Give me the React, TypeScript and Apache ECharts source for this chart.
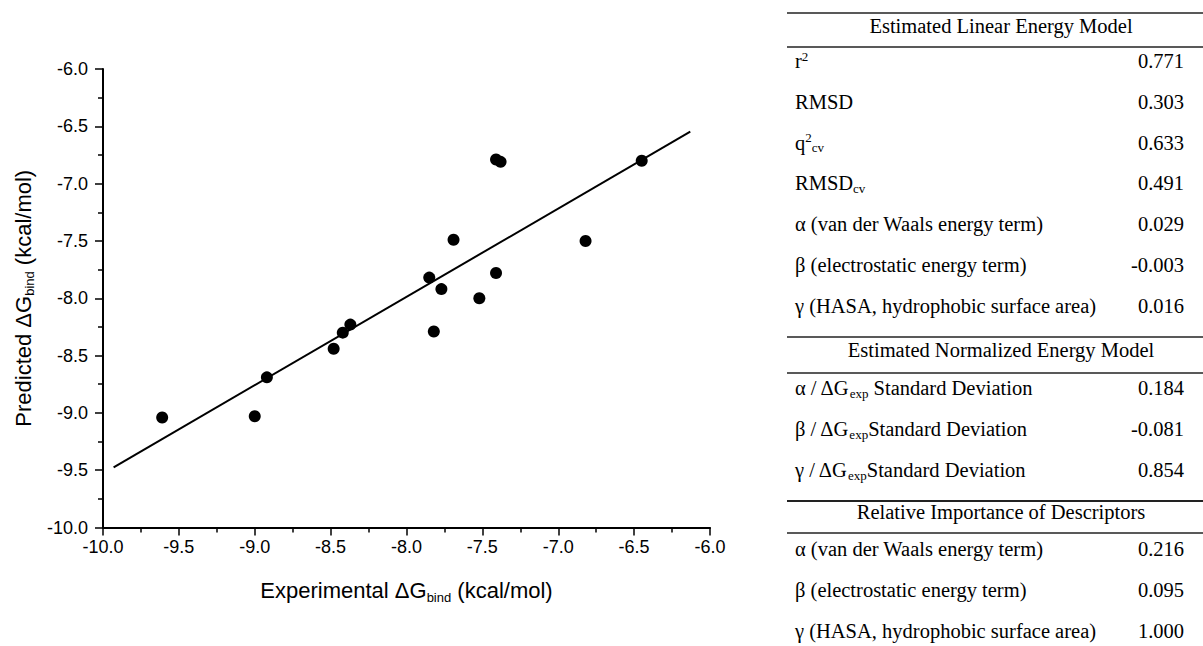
import React, { useEffect, useRef } from "react";
import * as echarts from "echarts";

// Scatter data (Experimental vs Predicted ΔG_bind)
const expX = [-9.61, -9.0, -8.92, -8.48, -8.42, -8.37, -7.85, -7.82, -7.77, -7.69, -7.52, -7.41, -7.41, -7.38, -6.82, -6.45];
const predY = [-9.04, -9.03, -8.69, -8.44, -8.3, -8.23, -7.82, -8.29, -7.92, -7.49, -8.0, -7.78, -6.79, -6.81, -7.5, -6.8];

// Regression line end points
const fitX = [-9.93, -6.13];
const fitY = [-9.475, -6.547];

// Table contents
const linearHeader = "Estimated Linear Energy Model";
const linearLabels = [
  "r{sup|2}",
  "RMSD",
  "q{sup|2}{sub|cv}",
  "RMSD{sub|cv}",
  "α (van der Waals energy term)",
  "β (electrostatic energy term)",
  "γ (HASA, hydrophobic surface area)",
];
const linearValues = ["0.771", "0.303", "0.633", "0.491", "0.029", "-0.003", "0.016"];

const normHeader = "Estimated Normalized Energy Model";
const normLabels = [
  "α / ΔG{sub|exp} Standard Deviation",
  "β / ΔG{sub|exp}Standard Deviation",
  "γ / ΔG{sub|exp}Standard Deviation",
];
const normValues = ["0.184", "-0.081", "0.854"];

const relHeader = "Relative Importance of Descriptors";
const relLabels = [
  "α (van der Waals energy term)",
  "β (electrostatic energy term)",
  "γ (HASA, hydrophobic surface area)",
];
const relValues = ["0.216", "0.095", "1.000"];

const SERIF = "'Liberation Serif', 'Times New Roman', serif";
const SANS = "'Liberation Sans', Arial, sans-serif";
const TFS = 20.5;

const tableRich = {
  sup: { fontSize: 13, fontFamily: SERIF, verticalAlign: "top", lineHeight: 12, color: "#000" },
  sub: { fontSize: 13, fontFamily: SERIF, verticalAlign: "bottom", lineHeight: 12, color: "#000" },
};

function buildTable() {
  const els: any[] = [];
  const LX = 795;
  const RX = 1184;
  const CX = 1001;
  const hline = (y: number, w: number) => ({
    type: "line",
    shape: { x1: 787, y1: y, x2: 1203, y2: y },
    style: { stroke: "#222", lineWidth: w },
  });
  const header = (t: string, y: number) => ({
    type: "text",
    x: CX,
    y,
    style: { text: t, fontFamily: SERIF, fontSize: TFS, fill: "#000", align: "center", verticalAlign: "middle" },
  });
  const rows = (labels: string[], values: string[], y0: number, step: number) => {
    labels.forEach((lab, i) => {
      const y = y0 + i * step;
      els.push({
        type: "text",
        x: LX,
        y,
        style: {
          text: lab,
          fontFamily: SERIF,
          fontSize: TFS,
          lineHeight: 23,
          fill: "#000",
          align: "left",
          verticalAlign: "middle",
          rich: tableRich,
        },
      });
      els.push({
        type: "text",
        x: RX,
        y,
        style: { text: values[i], fontFamily: SERIF, fontSize: TFS, fill: "#000", align: "right", verticalAlign: "middle" },
      });
    });
  };
  els.push(hline(13, 1.5));
  els.push(header(linearHeader, 26));
  els.push(hline(47, 1.5));
  rows(linearLabels, linearValues, 61, 40.8);
  els.push(hline(337, 1.5));
  els.push(header(normHeader, 350));
  els.push(hline(373, 1.5));
  rows(normLabels, normValues, 388, 41);
  els.push(hline(501, 2));
  els.push(header(relHeader, 512));
  els.push(hline(533, 1.5));
  rows(relLabels, relValues, 549, 40.8);
  return els;
}

const axisRich = {
  n: { fontSize: 22, fontFamily: SANS, color: "#000", lineHeight: 26, verticalAlign: "middle" },
  sub: { fontSize: 13, fontFamily: SANS, color: "#000", lineHeight: 14, verticalAlign: "bottom" },
};

export default function App() {
  const ref = useRef<HTMLDivElement>(null);
  useEffect(() => {
    if (!ref.current) return;
    const chart = echarts.init(ref.current, undefined, { renderer: "svg" });
    const fmt = (v: number) => v.toFixed(1);
    const commonAxis = {
      type: "value",
      min: -10,
      max: -6,
      interval: 0.5,
      axisLine: { show: true, onZero: false, lineStyle: { color: "#000", width: 2 } },
      axisTick: { show: true, length: 8, lineStyle: { color: "#000", width: 1.5 } },
      minorTick: { show: true, splitNumber: 2, length: 5, lineStyle: { color: "#000", width: 1.5 } },
      splitLine: { show: false },
      minorSplitLine: { show: false },
      nameLocation: "middle",
    };
    chart.setOption({
      animation: false,
      backgroundColor: "#fff",
      grid: { left: 103, top: 69, right: 493, bottom: 118.5, containLabel: false },
      xAxis: {
        ...commonAxis,
        name: "{n|Experimental ΔG}{sub|bind}{n| (kcal/mol)}",
        nameGap: 50,
        nameTextStyle: { rich: axisRich },
        axisLabel: {
          formatter: fmt,
          fontSize: 18,
          fontFamily: SANS,
          color: "#000",
          margin: 10,
          showMinLabel: true,
          showMaxLabel: true,
        },
      },
      yAxis: {
        ...commonAxis,
        name: "{n|Predicted ΔG}{sub|bind}{n| (kcal/mol)}",
        nameGap: 63,
        nameTextStyle: { rich: axisRich },
        axisLabel: {
          formatter: fmt,
          fontSize: 18,
          fontFamily: SANS,
          color: "#000",
          margin: 15,
          showMinLabel: true,
          showMaxLabel: true,
        },
      },
      series: [
        {
          type: "line",
          data: fitX.map((x, i) => [x, fitY[i]]),
          showSymbol: false,
          symbol: "none",
          lineStyle: { color: "#000", width: 2 },
          silent: true,
          z: 2,
        },
        {
          type: "scatter",
          data: expX.map((x, i) => [x, predY[i]]),
          symbol: "circle",
          symbolSize: 12,
          itemStyle: { color: "#000", opacity: 1 },
          z: 3,
        },
      ],
      graphic: buildTable(),
    });
    return () => chart.dispose();
  }, []);
  return (
    <div
      ref={ref}
      style={{ position: "fixed", left: 0, top: 0, width: 1203, height: 646, background: "#fff" }}
    />
  );
}
